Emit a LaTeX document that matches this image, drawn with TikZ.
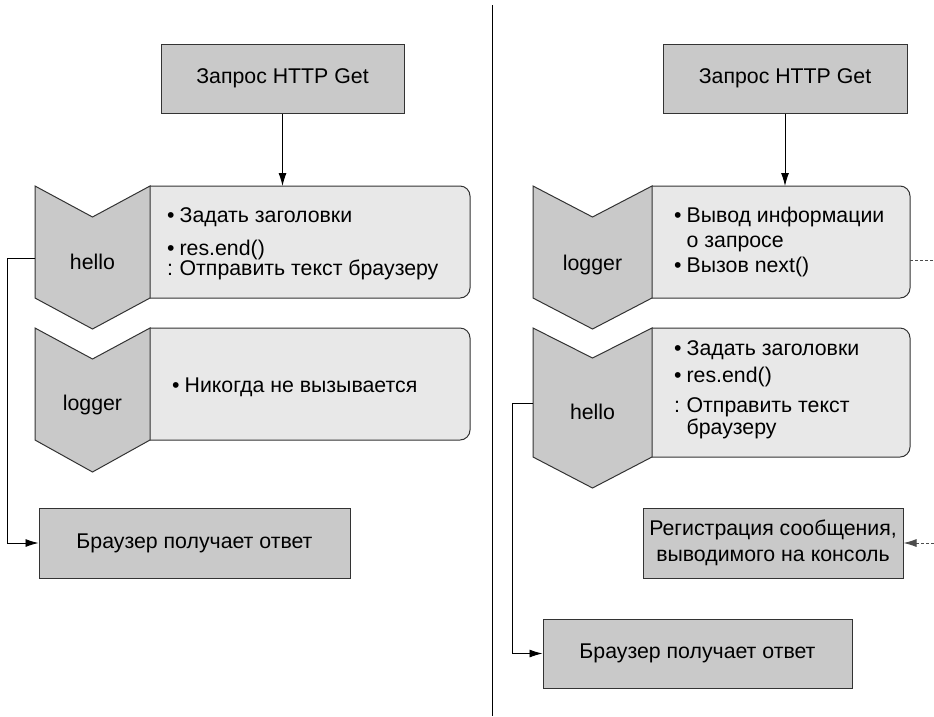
\documentclass[tikz,border=0pt]{standalone}
\usepackage{fontspec}
\setmainfont{Liberation Sans}
\usepackage{tikz}
\usetikzlibrary{calc,arrows.meta}
\usetikzlibrary{positioning}

\definecolor{boxgray}{gray}{0.79}
\definecolor{listgray}{gray}{0.91}

\begin{document}
\begin{tikzpicture}[x=1pt,y=-1pt,
  font=\fontsize{21.3}{23}\selectfont,
  box/.style={draw=black!80,fill=boxgray,line width=1pt,minimum height=69pt,inner sep=0pt},
  panel/.style={draw=black!80,fill=listgray,line width=1pt,rounded corners=10pt},
  chev/.style={draw=black!80,fill=boxgray,line width=1pt},
  items/.style={anchor=base west,inner sep=0pt},
  arr/.style={-{Latex[length=13pt,width=8pt]},line width=0.9pt},
  dashln/.style={dash pattern=on 3pt off 2pt,line width=0.8pt,draw=black!70}]
\useasboundingbox (0,0) rectangle (934,716);

% left half: hello answers, logger never runs
\node[box,minimum width=243pt] (getL) at (282.5,78.5) {Запрос HTTP Get};

\draw[panel] (150,186) -- (470,186) -- (470,298) -- (150,298);
\draw[chev] (35,186) -- (92.5,217) -- (150,186) -- (150,298) -- (92.5,329) -- (35,298) -- cycle;
\node (helloL) at (92.5,262) {hello};
\node[items] (helloLtxt) at (167,222) {\begin{tabular}[t]{@{}l@{\hspace{5pt}}l@{}}
  \textbullet & Задать заголовки\\[10pt]
  \textbullet & res.end()\\[-3pt]
  : & Отправить текст браузеру
\end{tabular}};

\draw[panel] (150,328) -- (470,328) -- (470,440) -- (150,440);
\draw[chev] (35,328) -- (92.5,359) -- (150,328) -- (150,440) -- (92.5,472) -- (35,440) -- cycle;
\node (logL) at (92.5,405) {logger};
\node[items] (logLtxt) at (172,392) {\textbullet\hspace{5pt}Никогда не вызывается};

\node[box,minimum width=311pt,minimum height=70pt] (browL) at (194.5,543) {Браузер получает ответ};

\coordinate (helloLin) at (282.5,186);
\coordinate (helloLout) at (35,258);
\draw[arr] (getL) -- (helloLin);
\draw[arr] (helloLout) -- ++(-28,0) |- (browL);

% divider
\draw[line width=0.9pt] (492,5) -- (492,716);

% right half: logger, then hello
\node[box,minimum width=244pt] (getR) at (785,78.5) {Запрос HTTP Get};

\draw[panel] (652,186) -- (910,186) -- (910,298) -- (652,298);
\draw[chev] (533,186) -- (592.5,217) -- (652,186) -- (652,298) -- (592.5,329) -- (533,298) -- cycle;
\node (logR) at (592.5,265) {logger};
\node[items] (logRtxt) at (674,222) {\begin{tabular}[t]{@{}l@{\hspace{5pt}}l@{}}
  \textbullet & Вывод информации\\[2pt]
   & о запросе\\[2pt]
  \textbullet & Вызов next()
\end{tabular}};

\draw[panel] (652,328) -- (910,328) -- (910,457) -- (652,457);
\draw[chev] (533,328) -- (592.5,358) -- (652,328) -- (652,457) -- (592.5,488) -- (533,457) -- cycle;
\node (helloR) at (592.5,412) {hello};
\node[items] (helloRtxt) at (674,355) {\begin{tabular}[t]{@{}l@{\hspace{5pt}}l@{}}
  \textbullet & Задать заголовки\\[4pt]
  \textbullet & res.end()\\[7pt]
  : & Отправить текст\\[-1pt]
   & браузеру
\end{tabular}};

\node[box,minimum width=260pt,minimum height=70pt,align=center] (regR) at (773,543) {Регистрация сообщения,\\[3pt]выводимого на консоль};
\node[box,minimum width=309pt] (browR) at (697.5,653.5) {Браузер получает ответ};

\coordinate (logRin) at (785,186);
\coordinate (logRout) at (910,260);
\coordinate (offA) at (934,260);
\coordinate (offB) at (934,543);
\coordinate (helloRout) at (533,403);
\draw[arr] (getR) -- (logRin);
\draw[dashln] (logRout) -- (offA);
\draw[dashln,arr] (offB) -- (regR);
\draw[arr] (helloRout) -- ++(-21,0) |- (browR);

\end{tikzpicture}
\end{document}
